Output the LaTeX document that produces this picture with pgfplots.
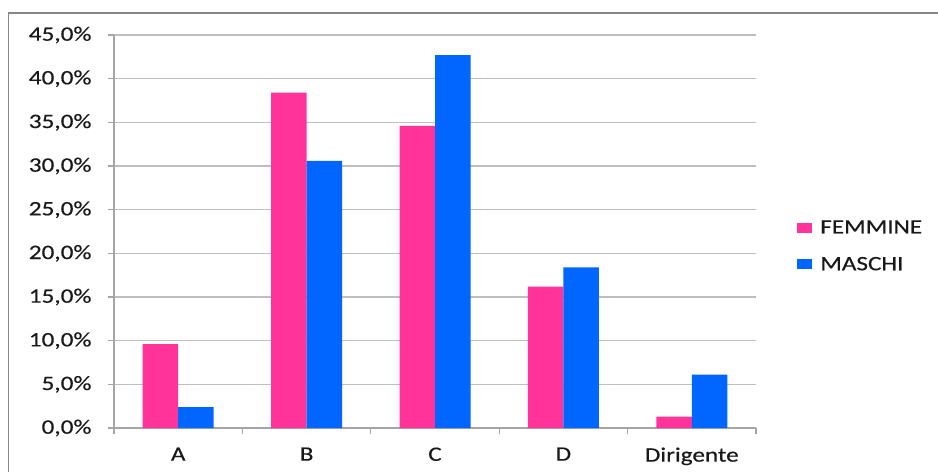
\documentclass[border=0pt]{standalone}
\usepackage{fontspec}
\setmainfont{Carlito}[FakeStretch=1.23, FakeBold=0.4]
\usepackage{pgfplots}
\pgfplotsset{compat=1.18}

\definecolor{femm}{RGB}{255,51,153}
\definecolor{masc}{RGB}{0,102,255}
\definecolor{gridg}{RGB}{190,190,190}
\definecolor{axisg}{RGB}{165,165,165}
\definecolor{frameg}{RGB}{135,135,135}
\definecolor{txt}{RGB}{25,25,25}

\begin{document}
\begin{tikzpicture}[x=1bp,y=1bp]
\path[use as bounding box] (0,0) rectangle (938,-472);
% chart frame (top and left edges)
\draw[frameg, line width=1.5bp] (8.5,-472) -- (8.5,-12.8) -- (938,-12.8);
\begin{axis}[
  at={(114bp,-428bp)}, anchor=south west,
  scale only axis, width=642bp, height=393bp,
  xmin=-0.5, xmax=4.5, ymin=0, ymax=45,
  ybar=0pt, bar width=35.5bp,
  axis x line*=bottom, axis y line*=left,
  axis line style={axisg, line width=1.3bp},
  tick style={axisg, line width=1.3bp},
  tick align=outside, major tick length=6bp,
  ytick={0,5,...,45},
  /pgf/number format/assume math mode=true,
  yticklabel={\pgfmathprintnumber[fixed,fixed zerofill,precision=1,use comma]{\tick}\%},
  ymajorgrids, grid style={gridg, line width=1.3bp},
  xtick={-0.5,0.5,...,4.5}, xticklabels={},
  extra x ticks={0,1,2,3,4},
  extra x tick labels={A,B,C,D,Dirigente},
  extra x tick style={major tick length=0pt, grid=none},
  ticklabel style={font=\fontsize{20.5bp}{24bp}\selectfont, text=txt},
  yticklabel style={xshift=-13bp},
  xticklabel style={yshift=-16bp},
  legend style={at={(1.064,0.463)}, anchor=west, draw=none, fill=none,
    inner sep=0pt, font=\fontsize{20.5bp}{24bp}\selectfont, text=txt,
    row sep=18bp, /tikz/every odd column/.append style={column sep=6bp}},
  legend cell align=left,
  legend image code/.code={\fill[#1] (0bp,-5bp) rectangle (15bp,5bp);},
]
\addplot[fill=femm, draw=none] coordinates {(0,9.6) (1,38.4) (2,34.6) (3,16.2) (4,1.3)};
\addplot[fill=masc, draw=none] coordinates {(0,2.4) (1,30.6) (2,42.7) (3,18.4) (4,6.1)};
\legend{FEMMINE,MASCHI}
\end{axis}
\end{tikzpicture}
\end{document}
